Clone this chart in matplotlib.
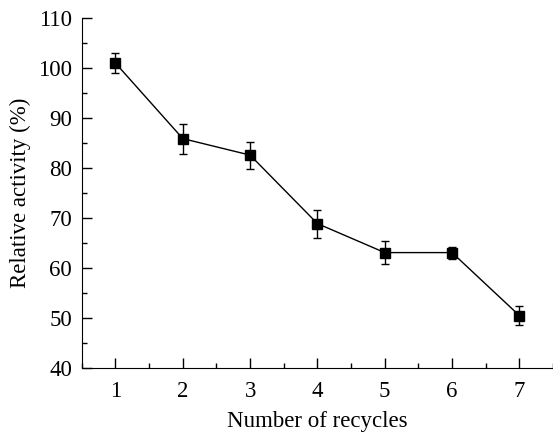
import matplotlib.pyplot as plt
import matplotlib as mpl
from matplotlib.ticker import MultipleLocator

mpl.rcParams['font.family'] = ['Liberation Serif', 'DejaVu Serif']
mpl.rcParams['font.size'] = 16.5

# Data
cycles = [1, 2, 3, 4, 5, 6, 7]
activity = [101.0, 85.9, 82.6, 68.9, 63.1, 63.1, 50.5]
err = [2.0, 3.0, 2.7, 2.8, 2.3, 1.2, 1.9]

fig = plt.figure(figsize=(5.53, 4.32), dpi=100)
ax = fig.add_axes([0.148, 0.148, 0.852, 0.81])

ax.errorbar(cycles, activity, yerr=err, color='k', marker='s', markersize=7,
            linewidth=1.0, elinewidth=1.0, capsize=2.7, capthick=1.0)

# Format
ax.set_xlim(0.5, 7.5)
ax.set_ylim(40, 110)
ax.xaxis.set_major_locator(MultipleLocator(1))
ax.xaxis.set_minor_locator(MultipleLocator(0.5))
ax.yaxis.set_major_locator(MultipleLocator(10))
ax.yaxis.set_minor_locator(MultipleLocator(5))
ax.tick_params(which='both', direction='in', width=1.0)
ax.tick_params(axis='y', pad=7)
ax.tick_params(axis='x', pad=9)
ax.tick_params(which='major', length=7)
ax.tick_params(which='minor', length=3.5)
ax.spines['top'].set_visible(False)
ax.spines['right'].set_visible(False)
ax.set_xlabel("Number of recycles", labelpad=7)
ax.set_ylabel("Relative activity (%)", labelpad=5)

fig.savefig('out.png', dpi=100)
